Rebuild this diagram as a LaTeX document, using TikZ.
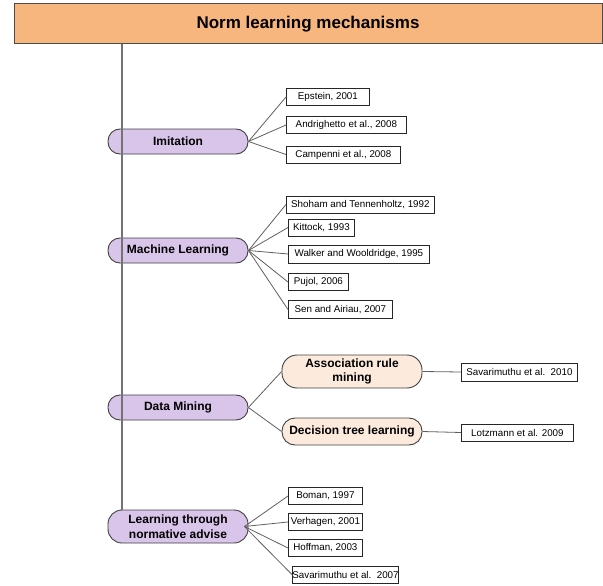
\documentclass[tikz,border=0pt]{standalone}
\usepackage{fontspec}
\setmainfont{Liberation Sans}
\definecolor{titlefill}{RGB}{248,182,127}
\definecolor{catfill}{RGB}{217,196,234}
\definecolor{subfill}{RGB}{252,234,220}
\definecolor{linegray}{RGB}{95,95,95}
\begin{document}
\begin{tikzpicture}[x=1pt,y=-1pt,
  titlebox/.style={draw=black!70, fill=titlefill, line width=1pt, minimum width=588pt, minimum height=40pt, inner sep=0pt, font=\bfseries\fontsize{17}{20}\selectfont},
  catbox/.style={draw=black!75, fill=catfill, line width=0.9pt, rounded corners=12pt, minimum width=140pt, minimum height=25pt, inner sep=0pt, align=center, font=\bfseries\fontsize{12}{14.5}\selectfont},
  subbox/.style={catbox, fill=subfill},
  refbox/.style={draw=black!85, fill=white, line width=0.8pt, minimum height=17pt, inner sep=0pt, anchor=west, font=\fontsize{9.8}{11}\selectfont},
  conn/.style={draw=linegray, line width=0.8pt},
  spine/.style={draw=black!55, line width=1.1pt}]
\useasboundingbox (0,0) rectangle (603,586);
% title
\node[titlebox] (title) at (308,24) {Norm learning mechanisms};
% categories
\node[catbox] (imit) at (178,141.5) {Imitation};
\node[catbox] (ml) at (178,250.5) {Machine Learning};
\node[catbox] (dm) at (178,407.5) {Data Mining};
\node[catbox, minimum height=33pt, rounded corners=14pt] (lt) at (178,526.5) {Learning through\\normative advise};
% spine
\coordinate (vtop) at (122,44);
\coordinate (vbot) at (122,510);
\draw[spine] (vtop) -- (vbot);
% imitation refs
\node[refbox, minimum width=83pt] (ep) at (286,97) {Epstein, 2001};
\node[refbox, minimum width=120pt] (an) at (286,125) {Andrighetto et al., 2008};
\node[refbox, minimum width=114pt] (ca) at (286,154.5) {Campenni et al., 2008};
\foreach \n in {ep,an,ca} \draw[conn] (imit.east) -- (\n.west);
% machine learning refs
\node[refbox, minimum width=148pt] (sh) at (286,204.5) {Shoham and Tennenholtz, 1992};
\node[refbox, minimum width=66pt] (ki) at (288,227.5) {Kittock, 1993};
\node[refbox, minimum width=141pt, minimum height=18pt] (wa) at (288,254) {Walker and Wooldridge, 1995};
\node[refbox, minimum width=60pt] (pu) at (288,282) {Pujol, 2006};
\node[refbox, minimum width=104pt, minimum height=18pt] (se) at (288,309.5) {Sen and Airiau, 2007};
\foreach \n in {sh,ki,wa,pu,se} \draw[conn] (ml.east) -- (\n.west);
% data mining
\node[subbox, minimum height=33pt, rounded corners=15pt] (as) at (352,371.5) {Association rule\\mining};
\node[subbox, minimum height=27pt, rounded corners=13pt] (dt) at (352,431.5) {Decision tree learning};
\node[refbox, minimum width=116pt, minimum height=18pt] (sv) at (461,372) {Savarimuthu et al.\ \ 2010};
\node[refbox, minimum width=112pt] (lo) at (461,432.5) {Lotzmann et al. 2009};
\draw[conn] (dm.east) -- (as.west);
\draw[conn] (dm.east) -- (dt.west);
\draw[conn] (as.east) -- (sv.west);
\draw[conn] (dt.east) -- (lo.west);
% learning through normative advise
\node[refbox, minimum width=74pt] (bo) at (288,496) {Boman, 1997};
\node[refbox, minimum width=74pt] (ve) at (288,522) {Verhagen, 2001};
\node[refbox, minimum width=74pt] (ho) at (288,548) {Hoffman, 2003};
\node[refbox, minimum width=105pt] (sa) at (292,574.5) {Savarimuthu et al.\ \ 2007};
\foreach \n in {bo,ve,ho,sa} \draw[conn] ([xshift=-4pt]lt.east) -- (\n.west);
\end{tikzpicture}
\end{document}
